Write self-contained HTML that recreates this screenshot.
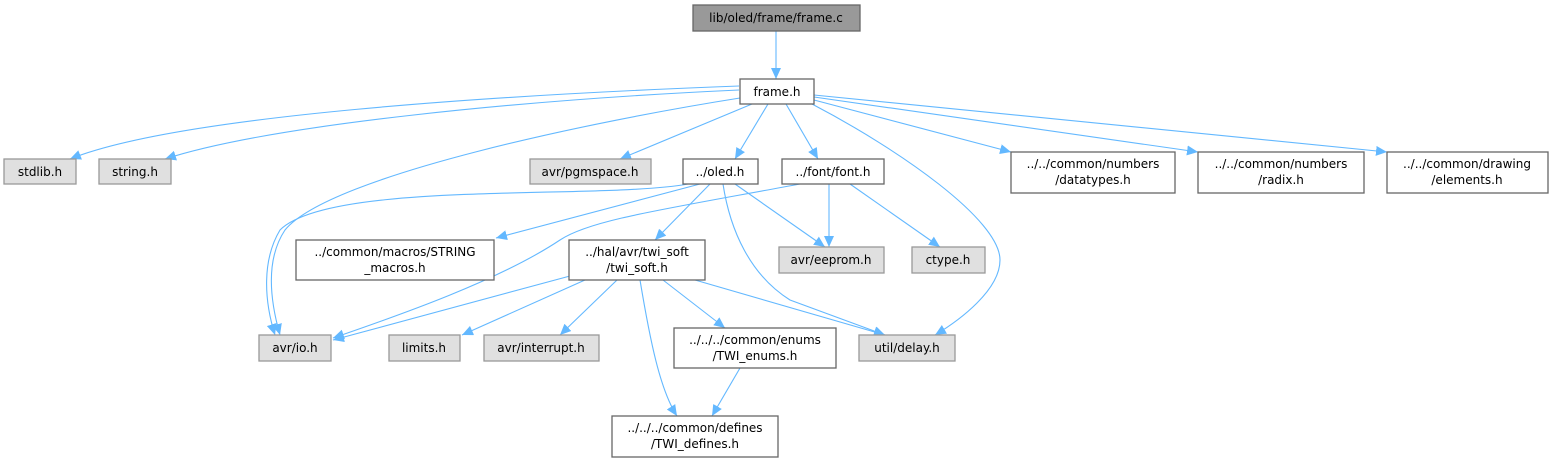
<!DOCTYPE html>
<html><head><meta charset="utf-8"><style>
html,body{margin:0;padding:0;background:#fff;}
svg{display:block;}
text{font-family:"DejaVu Sans","Liberation Sans",sans-serif;font-size:12px;fill:#000;text-anchor:middle;}
.w{fill:#fff;stroke:#666;stroke-width:1.3;}
.g{fill:#e0e0e0;stroke:#999;stroke-width:1.3;}
.e{fill:none;stroke:#63b8ff;stroke-width:1.1;}
</style></head><body>
<svg width="1551" height="461" viewBox="0 0 1551 461" xmlns="http://www.w3.org/2000/svg">
<defs><marker id="a" markerWidth="12" markerHeight="10" refX="11" refY="5" orient="auto" markerUnits="userSpaceOnUse"><path d="M0,0 L11,5 L0,10 z" fill="#63b8ff"/></marker></defs>
<g marker-end="url(#a)">
<path class="e" d="M776,31 L776,79"/>
<path class="e" d="M739,86 C500,95 180,115 70,159"/>
<path class="e" d="M739,90 C520,100 270,125 165,159"/>
<path class="e" d="M740,98 C600,120 330,175 285,230 C265,260 270,300 280,335"/>
<path class="e" d="M752,104 L620,159"/>
<path class="e" d="M768,104 L735,159"/>
<path class="e" d="M786,104 L818,159"/>
<path class="e" d="M812,104 C900,150 1000,220 1000,260 C1000,290 960,320 935,335"/>
<path class="e" d="M814,100 L1011,152"/>
<path class="e" d="M814,97 L1198,152"/>
<path class="e" d="M814,95 L1387,152"/>
<path class="e" d="M688,184 C600,200 330,180 280,230 C262,260 264,300 275,335"/>
<path class="e" d="M700,184 L496,238"/>
<path class="e" d="M710,184 L655,240"/>
<path class="e" d="M735,184 L825,247"/>
<path class="e" d="M723,184 C730,230 750,275 790,300 L885,335"/>
<path class="e" d="M800,184 C660,210 590,220 560,240 C500,280 400,315 333,338"/>
<path class="e" d="M829,184 L829,247"/>
<path class="e" d="M850,184 L940,247"/>
<path class="e" d="M570,276 L333,340"/>
<path class="e" d="M585,280 L462,335"/>
<path class="e" d="M617,280 L560,335"/>
<path class="e" d="M640,280 C650,340 660,390 677,416"/>
<path class="e" d="M663,280 L725,328"/>
<path class="e" d="M695,280 L885,335"/>
<path class="e" d="M740,368 L712,416"/>
</g>
<rect x="693" y="5" width="167" height="26" fill="#999" stroke="#666" stroke-width="1.3"/><text x="776" y="22">lib/oled/frame/frame.c</text>
<rect class="w" x="740" y="79" width="74" height="25"/><text x="777" y="96">frame.h</text>
<rect class="g" x="4" y="159" width="72" height="25"/><text x="40" y="176">stdlib.h</text>
<rect class="g" x="99" y="159" width="72" height="25"/><text x="135" y="176">string.h</text>
<rect class="g" x="530" y="159" width="121" height="25"/><text x="590" y="176">avr/pgmspace.h</text>
<rect class="w" x="683" y="159" width="75" height="25"/><text x="720" y="176">../oled.h</text>
<rect class="w" x="782" y="159" width="102" height="25"/><text x="833" y="176">../font/font.h</text>
<rect class="w" x="1011" y="152" width="164" height="41"/><text x="1093" y="168">../../common/numbers</text><text x="1093" y="184">/datatypes.h</text>
<rect class="w" x="1198" y="152" width="166" height="41"/><text x="1281" y="168">../../common/numbers</text><text x="1281" y="184">/radix.h</text>
<rect class="w" x="1387" y="152" width="161" height="41"/><text x="1467" y="168">../../common/drawing</text><text x="1467" y="184">/elements.h</text>
<rect class="w" x="296" y="240" width="198" height="40"/><text x="395" y="256">../common/macros/STRING</text><text x="395" y="272">_macros.h</text>
<rect class="w" x="569" y="240" width="136" height="40"/><text x="637" y="256">../hal/avr/twi_soft</text><text x="637" y="272">/twi_soft.h</text>
<rect class="g" x="779" y="247" width="105" height="26"/><text x="831" y="264">avr/eeprom.h</text>
<rect class="g" x="912" y="247" width="73" height="26"/><text x="948" y="264">ctype.h</text>
<rect class="g" x="259" y="335" width="72" height="26"/><text x="295" y="352">avr/io.h</text>
<rect class="g" x="389" y="335" width="71" height="26"/><text x="424" y="352">limits.h</text>
<rect class="g" x="484" y="335" width="115" height="26"/><text x="541" y="352">avr/interrupt.h</text>
<rect class="w" x="674" y="328" width="162" height="40"/><text x="755" y="344">../../../common/enums</text><text x="755" y="360">/TWI_enums.h</text>
<rect class="g" x="859" y="335" width="96" height="26"/><text x="907" y="352">util/delay.h</text>
<rect class="w" x="612" y="416" width="166" height="41"/><text x="695" y="432">../../../common/defines</text><text x="695" y="448">/TWI_defines.h</text>
</svg>
</body></html>
